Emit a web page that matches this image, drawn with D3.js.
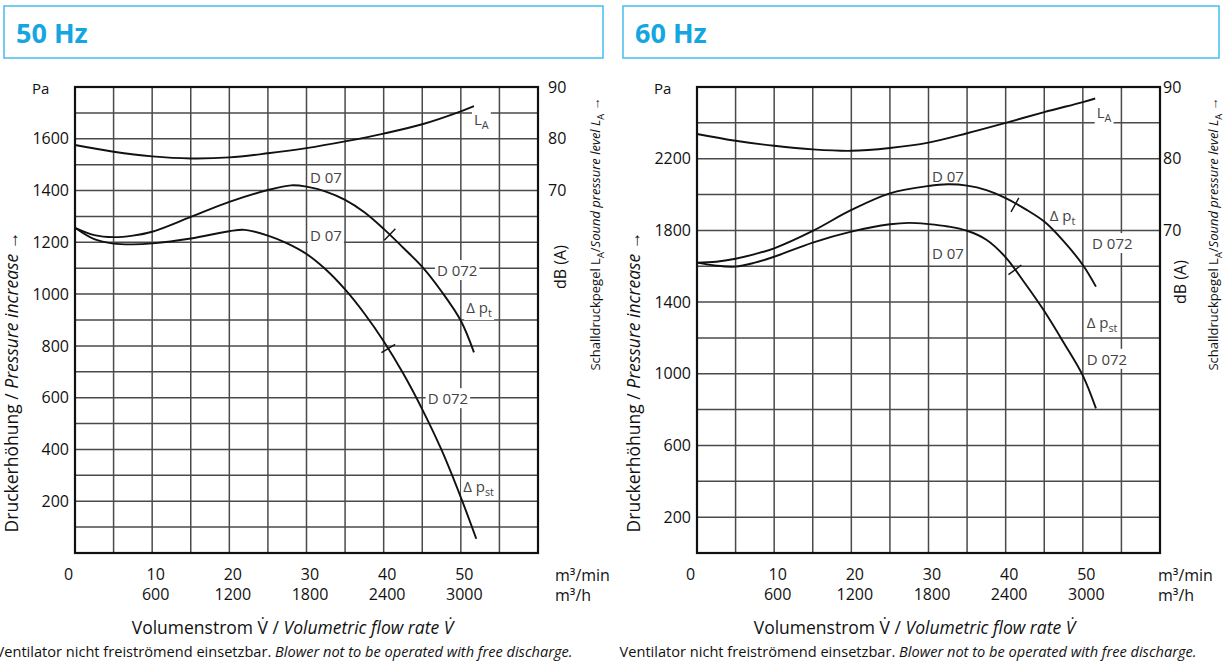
<!DOCTYPE html>
<html>
<head>
<meta charset="utf-8">
<script src="https://cdn.jsdelivr.net/npm/d3@7"></script>
<style>
  body { margin:0; background:#fff; }
  svg { display:block; font-family:"Open Sans", "Noto Sans", sans-serif; }
  .grid line { stroke:#4a4a4a; stroke-width:1.5; }
  .frame { fill:none; stroke:#111; stroke-width:2.2; }
  .curve { fill:none; stroke:#111; stroke-width:1.9; }
  .mark { stroke:#111; stroke-width:1.4; }
  .axis text { font-size:16px; fill:#111; font-family:"Open Sans", sans-serif; }
  .crv-lbl { font-size:15px; fill:#444; }
  .head { font-size:27px; font-weight:700; fill:#14a6e0; }
  .title { font-size:17.5px; fill:#111; }
  .note { font-size:14.6px; fill:#111; }
</style>
</head>
<body>
<svg id="chart" width="1224" height="661"></svg>
<script>
// flow rate axis (m³/min on the scale, m³/h as second row)
const flowTicks      = [0, 10, 20, 30, 40, 50];
const flowHourTicks  = [10, 20, 30, 40, 50];
const flowHourLabels = ["600", "1200", "1800", "2400", "3000"];
const dbTicks        = [70, 80, 90];

// 50 Hz
const paTicks50 = [200, 400, 600, 800, 1000, 1200, 1400, 1600];
const la50   = [[0,78.8],[5,77.5],[10,76.6],[15,76.2],[20,76.4],[25,77.2],[30,78.2],[35,79.5],[40,81.0],[45,82.8],[50,85.3],[51.7,86.3]];
const dpt50  = [[0,1256],[2.5,1228],[5,1220],[7.5,1226],[10,1241],[15,1298],[20,1356],[25,1402],[28,1420],[30,1415],[32.5,1396],[35,1364],[37.5,1316],[40,1252],[42.5,1180],[45,1105],[47.5,1010],[50,897],[51.7,775]];
const dpst50 = [[0,1256],[2.5,1212],[5,1195],[7.5,1192],[10,1196],[15,1215],[20,1243],[22,1248],[25,1226],[27.5,1196],[30,1155],[32.5,1095],[35,1018],[37.5,925],[40,818],[42.5,695],[45,555],[47.5,398],[50,215],[52,55]];
const marks50 = [[40.8,1230],[40.6,790]];

// 60 Hz
const paTicks60 = [200, 600, 1000, 1400, 1800, 2200];
const la60   = [[0,83.45],[5,82.5],[10,81.8],[15,81.3],[20,81.1],[25,81.5],[30,82.25],[35,83.55],[40,85.0],[45,86.5],[50,87.9],[51.6,88.4]];
const dpt60  = [[0,1620],[2.5,1625],[5,1642],[7.5,1668],[10,1700],[15,1797],[20,1914],[25,2007],[30,2048],[32.5,2057],[35,2050],[37.5,2025],[40,1980],[42.5,1920],[45,1849],[47.5,1740],[50,1607],[51.7,1486]];
const dpst60 = [[0,1620],[2.5,1603],[5,1598],[7.5,1620],[10,1653],[15,1732],[20,1793],[25,1834],[27.5,1842],[30,1835],[32.5,1822],[35,1798],[37.5,1748],[40,1650],[42.5,1505],[45,1350],[47.5,1175],[50,990],[51.7,807]];
const marks60 = [[41.2,1942],[41.2,1580]];

const svg = d3.select("#chart");
const TOP = 87, BOT = 553, PW = 463;

// rich text: kinds null | "it" | "sub" (subscript, next part steps back up)
function label(sel, parts) {
    let down = 0;
    parts.forEach(([t, kind]) => {
        const s = sel.append("tspan").text(t);
        if (kind === "sub") {
            s.attr("font-size", "0.72em").attr("dy", 4 - down);
            down = 4;
            return;
        }
        if (down) { s.attr("dy", -down); down = 0; }
        if (kind === "it") s.attr("font-style", "italic");
    });
}

function drawChart(c) {
    const g = svg.append("g");
    const x = d3.scaleLinear().domain([0, 60]).range([c.left, c.left + PW]);
    const y = d3.scaleLinear().domain([0, c.paMax]).range([BOT, TOP]);
    const yDb = d3.scaleLinear().domain(c.dbDomain).range([BOT, TOP]);

    // header box
    g.append("rect").attr("x", c.boxX).attr("y", 6).attr("width", c.boxW).attr("height", 52)
        .attr("fill", "none").attr("stroke", "#45bdf0").attr("stroke-width", 1.5);
    g.append("text").attr("class", "head").attr("x", c.boxX + 12).attr("y", 43).text(c.title);

    // grid
    const grid = g.append("g").attr("class", "grid");
    grid.selectAll("line.v").data(d3.range(5, 60, 5)).join("line").attr("class", "v")
        .attr("x1", d => x(d)).attr("x2", d => x(d)).attr("y1", TOP).attr("y2", BOT);
    grid.selectAll("line.h").data(d3.range(c.paStep, c.paMax, c.paStep)).join("line").attr("class", "h")
        .attr("x1", c.left).attr("x2", c.left + PW).attr("y1", d => y(d)).attr("y2", d => y(d));

    // curve labels with white background (they break the grid)
    const lblLayer = g.append("g");
    c.labels.forEach(l => {
        const t = lblLayer.append("text").attr("class", "crv-lbl").attr("x", x(l.x)).attr("y", y(l.y));
        label(t, l.parts);
        const b = t.node().getBBox();
        lblLayer.insert("rect", () => t.node())
            .attr("x", b.x - 2).attr("y", b.y).attr("width", b.width + 4).attr("height", b.height)
            .attr("fill", "#fff");
    });

    // curves
    const line = sc => d3.line().x(d => x(d[0])).y(d => sc(d[1])).curve(d3.curveCatmullRom.alpha(0.5));
    g.append("path").datum(c.la).attr("class", "curve").attr("d", line(yDb));
    g.append("path").datum(c.dpt).attr("class", "curve").attr("d", line(y));
    g.append("path").datum(c.dpst).attr("class", "curve").attr("d", line(y));

    // small cross marks on the pressure curves
    [c.dpt, c.dpst].forEach((data, k) => {
        const m = c.marks[k];
        const i = Math.max(0, data.findIndex(d => d[0] > m[0]) - 1);
        const dx = x(data[i + 1][0]) - x(data[i][0]), dy = y(data[i + 1][1]) - y(data[i][1]);
        const a = Math.atan2(dy, dx) + Math.PI / 2, r = 8;
        const cx = x(m[0]), cy = y(m[1]);
        g.append("line").attr("class", "mark")
            .attr("x1", cx - r * Math.cos(a)).attr("y1", cy - r * Math.sin(a))
            .attr("x2", cx + r * Math.cos(a)).attr("y2", cy + r * Math.sin(a));
    });

    // frame
    g.append("rect").attr("class", "frame").attr("x", c.left).attr("y", TOP).attr("width", PW).attr("height", BOT - TOP);

    // left axis (Pa)
    const ax = g.append("g").attr("class", "axis").attr("transform", `translate(${c.left},0)`)
        .call(d3.axisLeft(y).tickValues(c.paTicks).tickSize(0).tickPadding(6).tickFormat(d3.format("d")));
    ax.select(".domain").remove();
    g.append("text").attr("x", c.left - 43).attr("y", 94).attr("fill", "#111")
        .style("font-size", "15px").text("Pa");

    // right axis (dB)
    const ar = g.append("g").attr("class", "axis").attr("transform", `translate(${c.left + PW},0)`)
        .call(d3.axisRight(yDb).tickValues(dbTicks).tickSize(0).tickPadding(c.dbPad));
    ar.select(".domain").remove();

    // bottom axis, two rows
    const ab = g.append("g").attr("class", "axis").attr("transform", `translate(0,${BOT})`)
        .call(d3.axisBottom(x).tickValues(flowTicks).tickSize(0).tickPadding(16));
    ab.select(".domain").remove();
    ab.selectAll(".tick text").attr("dx", d => d === 0 ? -7 : 3);
    const ab2 = g.append("g").attr("class", "axis").attr("transform", `translate(0,${BOT + 20})`)
        .call(d3.axisBottom(x).tickValues(flowHourTicks).tickSize(0).tickPadding(16)
            .tickFormat((d, i) => flowHourLabels[i]));
    ab2.select(".domain").remove();
    ab2.selectAll(".tick text").attr("dx", 3);
    g.append("text").attr("x", c.unitX).attr("y", 581).style("font-size", "16px").attr("fill", "#111").text("m³/min");
    g.append("text").attr("x", c.unitX).attr("y", 601).style("font-size", "16px").attr("fill", "#111").text("m³/h");

    // titles
    const cx = c.left + PW / 2;
    const xt = g.append("text").attr("class", "title").attr("x", cx - 14).attr("y", 634).attr("text-anchor", "middle");
    label(xt, [["Volumenstrom V\u0307 / ", null], ["Volumetric flow rate V\u0307", "it"]]);
    const nt = g.append("text").attr("class", "note").attr("x", c.noteX).attr("y", 657).attr("text-anchor", "middle");
    label(nt, [["Ventilator nicht freiströmend einsetzbar. ", null], ["Blower not to be operated with free discharge.", "it"]]);

    const yt = g.append("text").attr("class", "title").attr("text-anchor", "middle").attr("dy", "0.35em")
        .attr("transform", `translate(${c.left - 63},382) rotate(-90)`);
    label(yt, [["Druckerhöhung / ", null], ["Pressure increase", "it"], [" \u2192", null]]);

    g.append("text").attr("text-anchor", "middle").attr("dy", "0.35em").style("font-size", "16px").attr("fill", "#111")
        .attr("transform", `translate(${c.left + PW + c.dbLblOff},${c.dbLblY}) rotate(-90)`).text("dB (A)");

    const st = g.append("text").attr("text-anchor", "middle").attr("dy", "0.35em").style("font-size", "13px").attr("fill", "#111")
        .attr("transform", `translate(${c.left + PW + c.splOff},234) rotate(-90)`);
    label(st, [["Schalldruckpegel L", null], ["A", "sub"], ["/", null], ["Sound pressure level L", "it"], ["A", "sub"], [" \u2192", null]]);
}

drawChart({
    title: "50 Hz", boxX: 4, boxW: 599, left: 75,
    paMax: 1800, paStep: 100, paTicks: paTicks50, dbDomain: [0, 90], dbPad: 10,
    unitX: 555, noteX: 284, dbLblOff: 22, dbLblY: 267, splOff: 57,
    la: la50, dpt: dpt50, dpst: dpst50, marks: marks50,
    labels: [
        { x: 51.7, y: 1653, parts: [["L", null], ["A", "sub"]] },
        { x: 30.45, y: 1429, parts: [["D 07", null]] },
        { x: 30.45, y: 1205, parts: [["D 07", null]] },
        { x: 46.9, y: 1070, parts: [["D 072", null]] },
        { x: 50.7, y: 927, parts: [["\u0394 p", null], ["t", "sub"]] },
        { x: 45.7, y: 575, parts: [["D 072", null]] },
        { x: 50.3, y: 235, parts: [["\u0394 p", null], ["st", "sub"]] }
    ]
});

drawChart({
    title: "60 Hz", boxX: 623, boxW: 596, left: 697,
    paMax: 2600, paStep: 200, paTicks: paTicks60, dbDomain: [25, 90], dbPad: 3,
    unitX: 1158, noteX: 908, dbLblOff: 20, dbLblY: 282, splOff: 53,
    la: la60, dpt: dpt60, dpst: dpst60, marks: marks60,
    labels: [
        { x: 51.8, y: 2427, parts: [["L", null], ["A", "sub"]] },
        { x: 30.45, y: 2070, parts: [["D 07", null]] },
        { x: 45.7, y: 1853, parts: [["\u0394 p", null], ["t", "sub"]] },
        { x: 51.2, y: 1696, parts: [["D 072", null]] },
        { x: 30.45, y: 1640, parts: [["D 07", null]] },
        { x: 50.5, y: 1255, parts: [["\u0394 p", null], ["st", "sub"]] },
        { x: 50.5, y: 1050, parts: [["D 072", null]] }
    ]
});
</script>
</body>
</html>
